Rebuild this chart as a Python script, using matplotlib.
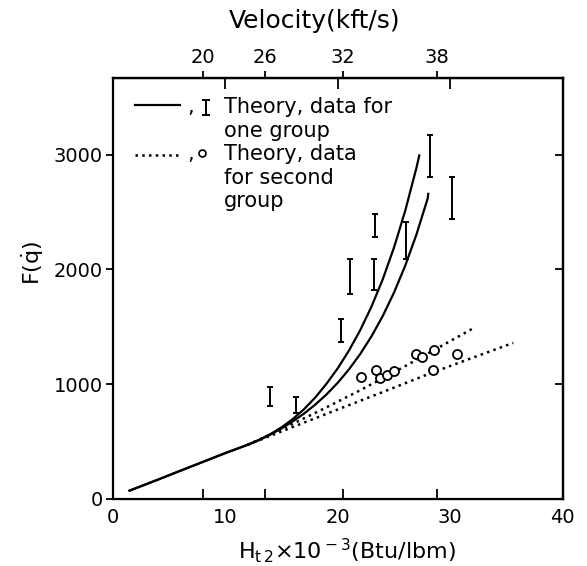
import numpy as np
import matplotlib
matplotlib.use('Agg')
import matplotlib.pyplot as plt

# Theory curves, first group (solid)
upper_h = [1.5, 4, 6, 8, 10, 12, 13, 14, 15, 16, 17, 18, 19, 20, 21, 22, 23, 24, 25, 26, 27, 27.25]
upper_f = [70, 165, 243, 320, 397, 470, 512, 562, 622, 694, 780, 882, 1002, 1137, 1292, 1470,
           1675, 1913, 2190, 2512, 2887, 2995]
lower_h = [1.5, 4, 6, 8, 10, 12, 13, 14, 15, 16, 17, 18, 19, 20, 21, 22, 23, 24, 25, 26, 27, 28, 28.05]
lower_f = [70, 165, 243, 320, 397, 470, 511, 558, 612, 674, 742, 820, 909, 1011, 1128, 1262,
           1416, 1593, 1797, 2033, 2305, 2620, 2660]

# Theory curves, second group (dotted)
dot_up_h = [12, 14, 16, 18, 20, 22, 24, 26, 28, 30, 32]
dot_up_f = [470, 560, 653, 748, 846, 946, 1050, 1157, 1266, 1375, 1484]
dot_lo_h = [12, 14, 16, 20, 24, 28, 32, 35.6]
dot_lo_f = [470, 548, 625, 778, 930, 1085, 1230, 1359]

# data, first group (bars)
bar_h = [14.0, 16.3, 20.3, 21.1, 23.2, 23.3, 26.1, 28.2, 30.2]
bar_f = [888, 816, 1470, 1940, 1956, 2384, 2254, 2990, 2624]
bar_err = [82, 72, 100, 155, 138, 102, 160, 184, 182]

# data, second group (circles)
circ_h = [22.1, 23.4, 23.8, 24.4, 25.0, 27.0, 27.5, 28.6, 28.5, 30.6]
circ_f = [1063, 1121, 1049, 1078, 1115, 1266, 1237, 1295, 1121, 1258]

x_ticks = [0, 10, 20, 30, 40]
y_ticks = [0, 1000, 2000, 3000]
vel_ticks = [20, 26, 32, 38]


def h_to_v(h):
    return np.sqrt(np.clip(np.asarray(h, dtype=float), 0, None) * 50.074)


def v_to_h(v):
    return np.asarray(v, dtype=float) ** 2 / 50.074


fig = plt.figure(figsize=(5.87, 5.66), dpi=100)
ax = fig.add_axes([0.192, 0.119, 0.7666, 0.743])

ax.plot(upper_h, upper_f, color='black', lw=1.6)
ax.plot(lower_h, lower_f, color='black', lw=1.6)
ax.plot(dot_up_h, dot_up_f, color='black', lw=1.8, linestyle=(0, (1, 1.7)))
ax.plot(dot_lo_h, dot_lo_f, color='black', lw=1.8, linestyle=(0, (1, 1.7)))
ax.errorbar(bar_h, bar_f, yerr=bar_err, fmt='none', ecolor='black',
            elinewidth=1.4, capsize=2.5, capthick=1.4)
ax.plot(circ_h, circ_f, 'o', ms=6.5, mfc='white', mec='black', mew=1.3)

ax.set_xlim(0, 40)
ax.set_ylim(0, 3670)
for sp in ax.spines.values():
    sp.set_linewidth(1.6)

ax.set_xticks(x_ticks)
ax.tick_params(axis='x', length=0, labelsize=14, pad=7)
ax.set_yticks(y_ticks)
ax.tick_params(axis='y', direction='out', length=5, width=1.3, labelsize=14, pad=2)

# velocity scale on top
sec = ax.secondary_xaxis('top', functions=(h_to_v, v_to_h))
sec.set_xticks(vel_ticks)
sec.tick_params(direction='out', length=5, width=1.3, labelsize=14, pad=3)
sec.spines['top'].set_linewidth(1.6)
fig.text(0.5366, 0.963, 'Velocity(kft/s)', fontsize=18, ha='center', va='center')

# inward velocity ticks along the bottom
sec_b = ax.secondary_xaxis('bottom', functions=(h_to_v, v_to_h))
sec_b.set_xticks(vel_ticks)
sec_b.set_xticklabels([])
sec_b.tick_params(direction='in', length=7, width=1.3)

# inward ticks on top for H
sec_t = ax.secondary_xaxis('top')
sec_t.set_xticks([10, 20, 30])
sec_t.set_xticklabels([])
sec_t.tick_params(direction='in', length=8, width=1.3)

sec_r = ax.secondary_yaxis('right')
sec_r.set_yticks([1000, 2000, 3000])
sec_r.set_yticklabels([])
sec_r.tick_params(direction='in', length=6, width=1.3)
sec_r.spines['right'].set_linewidth(1.6)

ax.set_xlabel(r'H$_{\rm t\,2}$$\times$10$^{\rm -3}$(Btu/lbm)', fontsize=16)
ax.xaxis.set_label_coords(0.52, -0.09)
ax.set_ylabel(r'F($\dot{\rm q}$)', fontsize=16)
ax.yaxis.set_label_coords(-0.148, 0.56)

# legend drawn by hand
tr = ax.transAxes
ax.plot([0.05, 0.15], [0.9365, 0.9365], color='black', lw=1.6, transform=tr)
ax.plot([0.207, 0.207], [0.9128, 0.9484], color='black', lw=1.4, transform=tr)
ax.plot([0.207, 0.207], [0.9128, 0.9484], '_', color='black', ms=6, mew=1.4, transform=tr)
ax.plot([0.05, 0.147], [0.8163, 0.8163], color='black', lw=1.8,
        linestyle=(0, (1, 1.7)), transform=tr)
ax.plot([0.198], [0.8216], 'o', ms=5, mfc='white', mec='black', mew=1.2, transform=tr)

base = [0.9167, 0.8608, 0.805, 0.7491, 0.6933]
lines = ['Theory, data for', 'one group', 'Theory, data', 'for second', 'group']
for yb, s in zip(base, lines):
    ax.text(0.2467, yb, s, transform=tr, fontsize=15, va='baseline', ha='left')
ax.text(0.165, base[0], ',', transform=tr, fontsize=15, va='baseline')
ax.text(0.165, base[2], ',', transform=tr, fontsize=15, va='baseline')

fig.savefig('out.png', dpi=100)
